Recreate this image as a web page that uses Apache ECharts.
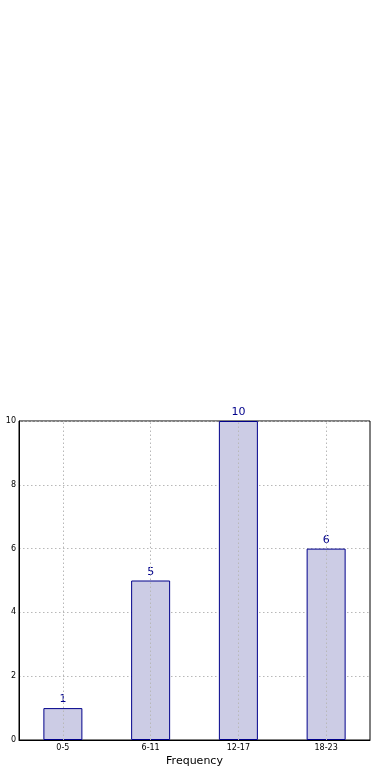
<!DOCTYPE html>
<html>
<head>
<meta charset="utf-8">
<script src="https://cdn.jsdelivr.net/npm/echarts@6/dist/echarts.min.js"></script>
<style>
html,body{margin:0;padding:0;background:#fff;}
#c{width:390px;height:780px;}
</style>
</head>
<body>
<div id="c"></div>
<script>
const categories = ['0-5', '6-11', '12-17', '18-23'];
const counts = [1, 5, 10, 6];
const yTicks = [0, 2, 4, 6, 8, 10];

const chart = echarts.init(document.getElementById('c'), null, {renderer: 'canvas'});
const gridLine = {color: '#b8b8b8', type: [1.5, 2.5], width: 1};
chart.setOption({
  animation: false,
  backgroundColor: '#ffffff',
  grid: {left: 19, right: 20, top: 421, bottom: 40, outerBoundsMode: 'none', containLabel: false,
         show: true, borderColor: '#000', borderWidth: 1, backgroundColor: 'transparent'},
  xAxis: {
    type: 'category',
    data: categories,
    name: 'Frequency',
    nameLocation: 'middle',
    nameGap: 16,
    nameMoveOverlap: false,
    nameTextStyle: {fontFamily: 'DejaVu Sans', fontSize: 11, color: '#000'},
    axisLine: {show: true, lineStyle: {color: '#000'}},
    axisTick: {show: false},
    axisLabel: {fontFamily: 'DejaVu Sans', fontSize: 8, color: '#000', margin: 4},
    splitLine: {show: false},
    boundaryGap: true
  },
  yAxis: {
    type: 'value',
    min: yTicks[0],
    max: yTicks[yTicks.length - 1],
    interval: 2,
    name: 'Absolute Value',
    nameLocation: 'middle',
    nameGap: 16,
    nameMoveOverlap: false,
    nameRotate: 90,
    nameTextStyle: {fontFamily: 'DejaVu Sans', fontSize: 11, color: '#000'},
    axisLine: {show: true, lineStyle: {color: '#000'}},
    axisTick: {show: false},
    axisLabel: {fontFamily: 'DejaVu Sans', fontSize: 8, color: '#000', margin: 3},
    splitLine: {show: true, lineStyle: gridLine}
  },
  series: [{
    type: 'bar',
    data: counts,
    barWidth: 39,
    z: 2,
    itemStyle: {color: '#ccccE5', borderColor: '#00008B', borderWidth: 1},
    label: {show: true, position: 'top', distance: 3, color: '#00008B', fontFamily: 'DejaVu Sans', fontSize: 11},
    markLine: {
      silent: true,
      symbol: ['none', 'none'],
      label: {show: false},
      lineStyle: gridLine,
      z: 3,
      data: categories.map(c => ({xAxis: c}))
    }
  }]
});
</script>
</body>
</html>
